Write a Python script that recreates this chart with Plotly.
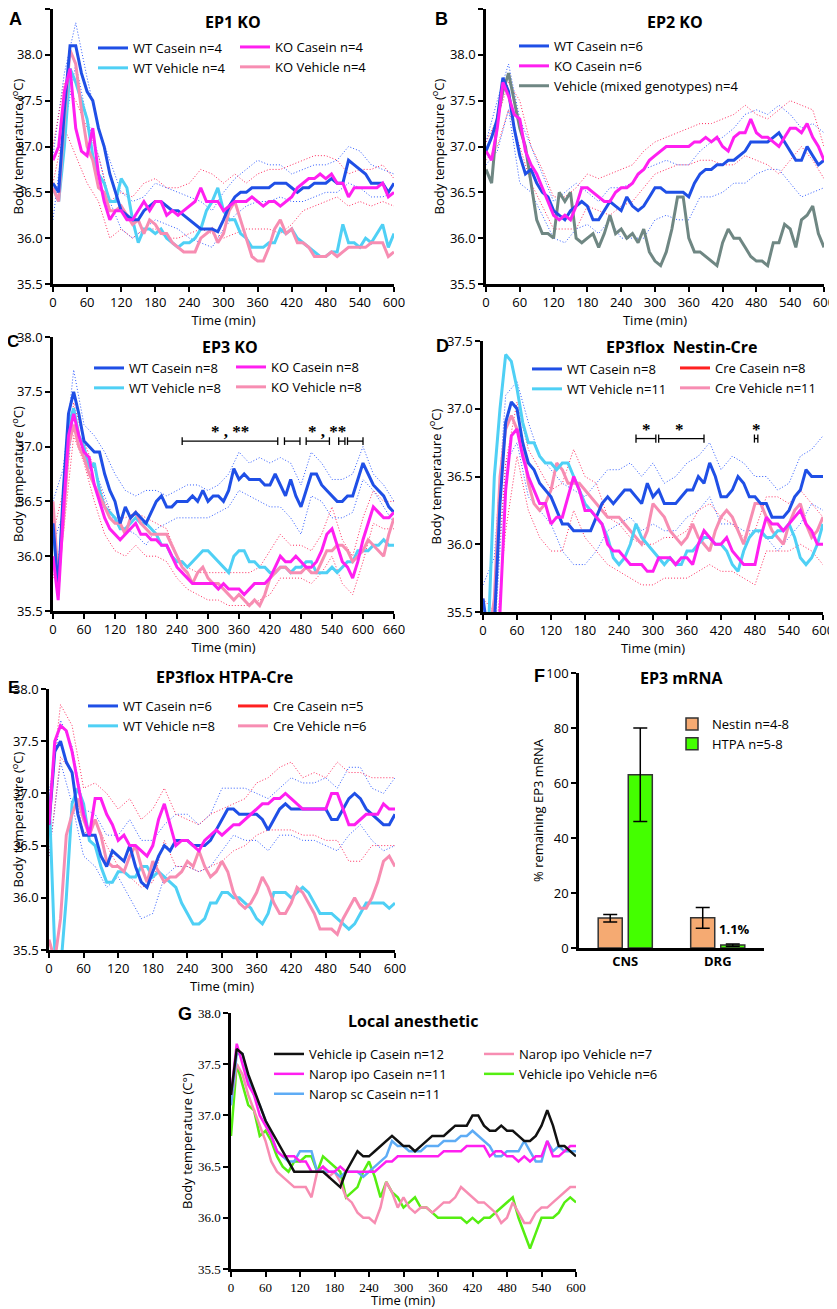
import plotly.graph_objects as go

SCREEN_W, SCREEN_H = 837, 1309
OFF = 8  # the page body margin shifts the figure by 8 px
W, H = SCREEN_W - OFF, SCREEN_H - OFF
FONT = "Open Sans"

# ---------------- DATA ----------------
T600 = [0,10,20,30,40,50,60,70,80,90,100,110,120,130,140,150,160,170,180,190,200,210,220,230,240,250,260,270,280,290,
        300,310,320,330,340,350,360,370,380,390,400,410,420,430,440,450,460,470,480,490,500,510,520,530,540,550,560,570,580,590,600]
T660 = T600 + [610,620,630,640,650,660]
S600 = [0,20,40,60,80,100,120,140,160,180,200,220,240,260,280,300,320,340,360,380,400,420,440,460,480,500,520,540,560,580,600]
S660 = S600 + [620,640,660]

# Panel A: EP1 KO
A_wt_cas = [36.6,36.5,37.4,38.1,38.1,37.8,37.6,37.5,37.2,37.0,
            36.7,36.5,36.3,36.25,36.2,36.2,36.3,36.35,36.4,36.4,
            36.35,36.3,36.3,36.25,36.2,36.15,36.1,36.1,36.1,36.07,
            36.2,36.35,36.45,36.5,36.5,36.55,36.55,36.55,36.55,36.6,
            36.6,36.6,36.55,36.5,36.55,36.55,36.6,36.6,36.6,36.65,
            36.6,36.6,36.85,36.8,36.75,36.7,36.6,36.6,36.6,36.5,
            36.6]
A_wt_veh = [36.55,36.4,37.0,37.85,37.7,37.5,37.3,36.9,36.7,36.6,
            36.4,36.4,36.65,36.55,36.2,35.95,36.1,36.1,36.05,36.1,
            36.0,35.95,35.9,35.95,35.95,36.0,36.1,36.3,36.4,36.55,
            36.3,36.2,36.2,36.05,36.0,35.9,35.9,35.9,35.95,35.95,
            36.1,36.05,36.1,36.0,35.95,35.9,35.85,35.8,35.8,35.85,
            35.85,36.15,35.95,35.95,35.9,36.0,35.95,36.05,36.15,35.9,
            36.05]
A_ko_cas = [36.85,37.0,37.6,37.85,37.2,36.95,36.9,37.2,36.7,36.4,
            36.2,36.3,36.3,36.2,36.2,36.3,36.4,36.3,36.4,36.4,
            36.25,36.3,36.25,36.3,36.35,36.4,36.55,36.4,36.4,36.4,
            36.3,36.35,36.4,36.4,36.4,36.45,36.4,36.35,36.4,36.4,
            36.35,36.4,36.45,36.55,36.6,36.65,36.65,36.7,36.65,36.7,
            36.6,36.6,36.45,36.55,36.55,36.55,36.55,36.55,36.6,36.45,
            36.5]
A_ko_veh = [36.55,36.4,37.3,38.05,37.9,37.4,37.0,36.85,36.55,36.5,
            36.3,36.3,36.35,36.25,36.15,36.2,36.05,36.2,36.15,36.05,
            36.05,35.95,35.9,35.85,35.85,35.85,36.0,36.05,36.1,35.95,
            36.05,36.3,36.4,36.2,36.0,35.8,35.75,35.75,35.9,36.1,
            36.2,36.05,36.1,35.95,35.95,35.9,35.8,35.8,35.8,35.85,
            35.8,35.85,35.9,35.9,35.9,35.9,35.95,35.95,35.95,35.8,
            35.85]
A_wt_hi = [36.9,37.8,38.35,37.75,37.2,36.85,36.5,36.4,36.45,36.6,36.55,36.5,36.45,36.4,36.3,36.5,36.65,36.75,36.85,36.8,
           36.8,36.7,36.75,36.8,36.8,36.85,37.0,36.95,36.8,36.75,36.7]
A_wt_lo = [36.2,37.2,37.9,37.3,36.9,36.4,36.1,36.0,36.1,36.2,36.15,36.1,36.0,35.95,35.9,36.1,36.25,36.35,36.4,36.4,
           36.45,36.4,36.4,36.45,36.5,36.5,36.6,36.55,36.45,36.45,36.5]
A_ko_hi = [37.0,37.7,37.5,37.2,36.9,36.4,36.5,36.45,36.6,36.65,36.55,36.55,36.6,36.75,36.7,36.6,36.7,36.6,36.7,36.75,
           36.75,36.8,36.85,36.9,36.9,36.85,36.7,36.75,36.75,36.8,36.65]
A_ko_lo = [36.6,37.2,36.9,36.6,36.4,36.0,36.1,36.0,36.1,36.1,36.0,36.0,36.05,36.1,36.05,36.0,36.05,36.1,36.1,36.1,
           36.05,36.15,36.3,36.35,36.4,36.45,36.35,36.4,36.35,36.4,36.35]

# Panel B: EP2 KO
B_wt_cas = [36.95,37.1,37.3,37.75,37.6,37.2,36.9,36.7,36.75,36.6,
            36.5,36.45,36.3,36.25,36.2,36.3,36.35,36.4,36.35,36.2,
            36.2,36.3,36.4,36.35,36.3,36.45,36.35,36.3,36.35,36.45,
            36.55,36.55,36.5,36.5,36.5,36.5,36.45,36.6,36.7,36.75,
            36.75,36.8,36.8,36.85,36.85,36.9,36.95,37.05,37.05,37.05,
            37.05,37.1,37.15,37.05,36.95,36.85,36.85,37.0,36.9,36.8,
            36.85]
B_ko_cas = [36.95,36.85,37.2,37.7,37.55,37.35,37.3,36.95,36.8,36.7,
            36.55,36.4,36.25,36.2,36.25,36.2,36.35,36.55,36.55,36.5,
            36.45,36.4,36.4,36.5,36.55,36.55,36.6,36.7,36.75,36.85,
            36.9,36.95,37.0,37.0,37.0,37.0,37.0,37.05,37.05,37.1,
            37.05,37.1,37.0,36.95,37.1,37.15,37.15,37.3,37.15,37.1,
            37.1,37.05,37.0,37.1,37.2,37.2,37.15,37.25,37.1,37.0,
            36.85]
B_veh = [36.75,36.6,37.3,37.6,37.8,37.5,37.2,37.0,36.6,36.2,
         36.05,36.05,36.0,36.5,36.4,36.5,36.0,35.95,36.0,36.05,
         35.9,36.05,36.25,36.05,36.1,36.0,36.05,35.95,36.1,35.85,
         35.75,35.7,35.85,36.1,36.45,36.45,36.0,35.85,35.85,35.8,
         35.75,35.7,35.95,36.1,36.0,36.0,35.9,35.8,35.75,35.75,
         35.7,35.95,35.95,36.15,36.1,35.9,36.2,36.25,36.35,36.05,
         35.9]
B_wt_hi = [37.05,37.5,37.9,37.3,37.0,36.7,36.4,36.5,36.6,36.5,36.4,36.55,36.55,36.6,36.75,36.8,36.85,36.8,36.8,36.95,
           37.05,37.1,37.2,37.35,37.4,37.35,37.45,37.35,37.2,37.25,37.15]
B_wt_lo = [36.8,36.95,37.4,36.6,36.5,36.25,36.0,35.95,36.1,36.15,36.05,36.2,36.0,36.0,36.0,36.2,36.25,36.2,36.2,36.45,
           36.45,36.5,36.6,36.6,36.7,36.75,36.75,36.6,36.45,36.5,36.55]
B_ko_hi = [37.05,37.3,37.7,37.5,37.0,36.75,36.45,36.45,36.55,36.7,36.65,36.7,36.75,36.8,36.95,37.05,37.1,37.15,37.2,37.25,
           37.25,37.3,37.35,37.45,37.35,37.3,37.4,37.5,37.45,37.4,37.0]
B_ko_lo = [36.85,37.0,37.4,37.0,36.6,36.35,36.1,36.1,36.1,36.35,36.3,36.25,36.35,36.4,36.55,36.7,36.75,36.8,36.8,36.85,
           36.85,36.8,36.8,36.9,36.85,36.8,36.7,36.85,37.0,36.85,36.65]

# Panel C: EP3 KO (0-660 min)
C_wt_cas = [36.3,35.7,36.6,37.3,37.5,37.3,37.05,37.0,36.95,36.95,
            36.75,36.6,36.5,36.3,36.45,36.35,36.4,36.35,36.3,36.4,
            36.5,36.55,36.45,36.45,36.5,36.5,36.5,36.55,36.5,36.6,
            36.5,36.55,36.55,36.5,36.6,36.8,36.7,36.75,36.7,36.7,
            36.7,36.65,36.65,36.75,36.65,36.55,36.7,36.55,36.45,36.6,
            36.75,36.75,36.65,36.6,36.55,36.5,36.5,36.55,36.55,36.7,
            36.85,36.75,36.65,36.6,36.55,36.45,36.4]
C_wt_veh = [36.3,35.7,36.5,37.2,37.35,37.1,37.0,36.8,36.85,36.6,
            36.45,36.4,36.35,36.25,36.25,36.3,36.35,36.3,36.3,36.25,
            36.2,36.1,36.1,36.0,35.95,35.95,35.9,35.95,36.0,36.05,
            36.05,36.0,35.95,35.9,35.85,36.0,36.05,36.05,35.95,35.95,
            35.9,35.9,35.85,35.85,35.9,35.9,35.85,35.9,35.9,35.95,
            35.95,35.85,35.85,35.85,35.9,35.85,35.9,35.95,35.95,36.05,
            36.05,36.05,36.1,36.1,36.15,36.1,36.1]
C_ko_cas = [36.0,35.6,36.4,37.1,37.3,37.1,36.95,36.9,36.65,36.5,
            36.35,36.25,36.2,36.15,36.2,36.25,36.3,36.2,36.2,36.15,
            36.15,36.1,36.1,36.0,35.9,35.85,35.8,35.75,35.75,35.75,
            35.75,35.75,35.7,35.75,35.7,35.7,35.7,35.65,35.7,35.75,
            35.75,35.75,35.8,35.9,36.0,35.95,35.95,36.0,35.95,35.9,
            35.9,35.95,36.05,36.2,36.25,36.1,35.95,35.9,35.8,35.95,
            36.15,36.3,36.45,36.4,36.35,36.35,36.4]
C_ko_veh = [36.5,35.8,36.3,37.0,37.2,37.0,36.9,36.75,36.65,36.55,
            36.45,36.35,36.3,36.3,36.2,36.35,36.4,36.3,36.25,36.2,
            36.2,36.2,36.2,36.1,36.0,35.9,35.85,35.75,35.85,35.9,
            35.8,35.75,35.75,35.7,35.65,35.6,35.65,35.6,35.55,35.6,
            35.55,35.65,35.8,35.85,35.9,35.9,35.85,35.85,35.85,35.9,
            35.85,35.85,35.95,36.05,36.05,36.1,36.1,36.05,35.95,36.0,
            36.05,36.15,36.1,36.05,36.0,36.2,36.35]
C_wt_hi = [36.5,36.8,37.7,37.2,37.1,36.95,36.75,36.6,36.55,36.6,36.6,36.55,36.6,36.65,36.65,36.6,36.65,36.75,36.95,36.85,
           36.9,36.85,36.9,36.85,36.65,36.95,36.85,36.7,36.7,36.75,37.0,36.75,36.65,36.5]
C_wt_lo = [36.1,36.4,37.3,36.9,36.8,36.55,36.3,36.25,36.2,36.1,36.25,36.3,36.35,36.35,36.35,36.35,36.4,36.45,36.6,36.55,
           36.5,36.45,36.45,36.35,36.2,36.55,36.5,36.35,36.35,36.4,36.7,36.6,36.45,36.3]
C_ko_hi = [36.2,36.6,37.4,37.05,36.8,36.5,36.35,36.35,36.4,36.35,36.3,36.25,36.0,35.9,35.85,35.85,35.85,35.85,35.85,35.85,
           35.9,36.05,36.2,36.1,36.1,36.05,36.2,36.45,36.15,36.0,36.35,36.6,36.5,36.5]
C_ko_lo = [35.8,36.2,37.1,36.85,36.5,36.2,36.05,36.0,36.1,36.0,36.0,35.95,35.8,35.7,35.65,35.6,35.6,35.55,35.55,35.55,
           35.6,35.65,35.8,35.8,35.8,35.75,35.85,36.0,35.75,35.65,35.95,36.3,36.25,36.25]
C_bracket_spans = [[250, 435], [448, 478], [490, 535], [553, 565], [570, 600]]
C_bracket_y = 37.05
C_star_x = [342, 530]
C_star_text = ["* , **", "* , **"]

# Panel D: EP3flox Nestin-Cre
D_wt_cas = [35.6,35.3,35.4,36.3,36.9,37.05,37.0,36.75,36.6,36.55,
            36.45,36.4,36.35,36.25,36.15,36.15,36.1,36.1,36.1,36.1,
            36.2,36.3,36.35,36.3,36.35,36.4,36.4,36.35,36.3,36.45,
            36.35,36.4,36.3,36.3,36.3,36.35,36.4,36.4,36.5,36.45,
            36.6,36.5,36.35,36.35,36.4,36.5,36.45,36.35,36.35,36.3,
            36.3,36.2,36.2,36.2,36.25,36.35,36.4,36.55,36.5,36.5,
            36.5]
D_wt_veh = [35.5,35.4,36.5,37.0,37.4,37.35,37.15,36.9,36.75,36.75,
            36.65,36.6,36.6,36.55,36.6,36.6,36.5,36.4,36.3,36.25,
            36.2,36.15,36.05,35.9,35.85,35.9,36.0,36.15,36.05,36.0,
            35.95,35.9,35.85,35.9,35.85,35.85,35.95,35.95,36.0,36.05,
            36.05,36.0,36.0,35.95,35.85,35.8,35.95,36.05,36.1,36.1,
            36.05,36.05,36.1,36.1,36.15,36.05,35.9,35.85,35.9,36.0,
            36.15]
D_cre_cas = [35.4,35.2,35.3,35.5,36.4,36.8,36.85,36.65,36.5,36.4,
             36.3,36.3,36.15,36.2,36.2,36.35,36.5,36.4,36.25,36.25,
             36.2,36.15,36.0,35.95,35.95,35.9,35.85,35.85,35.85,35.8,
             35.8,35.9,35.9,35.9,35.85,35.9,35.9,35.85,36.0,36.1,
             36.05,36.0,36.0,36.05,35.95,35.9,35.85,35.85,35.85,36.05,
             36.2,36.15,36.15,36.1,36.15,36.2,36.25,36.15,36.1,36.0,
             36.0]
D_cre_veh = [35.4,35.3,35.6,36.5,36.85,36.95,36.85,36.75,36.45,36.3,
             36.25,36.3,36.4,36.6,36.55,36.45,36.45,36.45,36.4,36.35,
             36.3,36.25,36.2,36.2,36.2,36.15,36.1,36.05,36.0,36.1,
             36.3,36.25,36.2,36.1,36.05,36.0,36.05,36.15,36.05,36.0,
             35.95,36.1,36.2,36.25,36.2,36.1,36.0,36.15,36.3,36.3,
             36.2,36.1,36.05,36.0,36.15,36.25,36.3,36.15,36.05,36.1,
             36.2]
D_wt_hi = [35.7,35.9,37.1,37.2,36.9,36.65,36.55,36.45,36.4,36.35,36.45,36.55,36.55,36.6,36.5,36.6,36.45,36.5,36.6,36.65,
           36.75,36.55,36.65,36.6,36.5,36.5,36.4,36.45,36.65,36.7,36.8]
D_wt_lo = [35.5,35.3,36.6,36.75,36.35,36.25,36.15,35.95,35.85,35.85,35.95,36.1,36.15,36.2,36.1,36.15,36.1,36.1,36.2,36.25,
           36.35,36.15,36.15,36.1,36.1,36.05,35.95,36.05,36.15,36.3,36.25]
D_cre_hi = [35.6,35.5,36.6,37.05,36.7,36.55,36.4,36.45,36.7,36.5,36.45,36.2,36.15,36.05,36.0,36.0,36.05,36.05,36.1,36.25,
            36.3,36.2,36.15,36.05,36.1,36.35,36.35,36.3,36.4,36.3,36.2]
D_cre_lo = [35.3,35.2,36.1,36.65,36.25,36.05,35.95,35.95,36.25,36.05,35.95,35.85,35.8,35.75,35.7,35.7,35.75,35.75,35.75,35.8,
            35.85,35.8,35.8,35.75,35.7,35.95,35.95,35.95,36.0,35.95,35.85]
D_bracket_spans = [[270, 305], [310, 390], [479, 485]]
D_bracket_y = 36.78
D_star_x = [289, 347, 482]
D_star_text = ["*", "*", "*"]

# Panel E: EP3flox HTPA-Cre
E_wt_cas = [36.7,37.4,37.5,37.3,37.2,36.8,36.6,36.6,36.6,36.4,
            36.3,36.45,36.4,36.35,36.5,36.3,36.15,36.1,36.25,36.4,
            36.5,36.45,36.55,36.55,36.55,36.5,36.5,36.5,36.55,36.65,
            36.75,36.85,36.85,36.8,36.8,36.8,36.8,36.75,36.65,36.75,
            36.85,36.9,36.85,36.85,36.85,36.85,36.85,36.85,36.85,36.75,
            36.75,36.85,36.95,37.0,36.95,36.85,36.8,36.75,36.7,36.7,
            36.8]
E_wt_veh = [37.0,35.5,35.3,36.0,36.9,37.05,36.9,36.55,36.5,36.3,
            36.15,36.15,36.25,36.25,36.2,36.2,36.3,36.3,36.2,36.25,
            36.2,36.15,36.1,35.95,35.85,35.75,35.75,35.8,35.95,35.95,
            36.05,36.05,36.0,36.0,35.95,35.9,35.8,35.75,35.85,36.05,
            36.05,36.05,36.0,36.05,36.1,36.05,35.95,35.85,35.85,35.85,
            35.8,35.75,35.7,35.75,35.85,35.95,35.95,35.95,35.95,35.9,
            35.95]
E_cre_cas = [36.7,37.5,37.65,37.6,37.4,37.1,36.8,36.6,36.95,36.95,
             36.8,36.7,36.55,36.6,36.5,36.5,36.45,36.4,36.5,36.75,
             36.9,36.7,36.5,36.55,36.55,36.5,36.45,36.55,36.6,36.65,
             36.6,36.65,36.7,36.7,36.75,36.8,36.85,36.9,36.9,36.95,
             36.95,37.0,36.95,36.9,36.85,36.85,36.85,36.85,36.85,37.0,
             37.0,36.85,36.7,36.7,36.75,36.8,36.8,36.8,36.9,36.85,
             36.85]
E_cre_veh = [35.6,35.4,35.8,36.6,36.8,36.95,36.75,36.6,36.75,36.6,
             36.35,36.3,36.3,36.25,36.4,36.5,36.3,36.15,36.35,36.25,
             36.15,36.2,36.2,36.25,36.35,36.3,36.45,36.3,36.2,36.25,
             36.35,36.25,36.05,35.95,35.9,35.95,36.05,36.2,36.1,35.95,
             35.85,35.85,35.95,36.1,36.05,35.95,35.85,35.7,35.7,35.7,
             35.65,35.8,35.9,36.0,35.9,35.9,36.0,36.15,36.35,36.4,
             36.3]
E_wt_hi = [37.0,37.7,37.45,36.85,36.8,36.6,36.6,36.75,36.55,36.55,36.7,36.8,36.8,36.7,36.8,37.05,37.05,37.05,37.0,36.95,
           37.05,37.15,37.1,37.1,37.15,37.05,37.25,37.25,37.05,37.0,37.15]
E_wt_lo = [36.4,37.3,36.9,36.4,36.3,36.1,36.2,36.0,35.8,35.85,36.2,36.3,36.3,36.25,36.3,36.45,36.6,36.55,36.55,36.45,
           36.6,36.6,36.55,36.55,36.5,36.45,36.6,36.7,36.55,36.45,36.5]
E_cre_hi = [36.9,37.85,37.65,37.05,37.1,37.0,36.85,36.95,36.75,36.85,37.05,36.8,36.75,36.7,36.8,36.85,36.9,36.95,37.1,37.15,
            37.25,37.3,37.15,37.2,37.15,37.3,37.2,37.2,37.15,37.15,37.15]
E_cre_lo = [36.4,37.35,37.2,36.6,36.75,36.5,36.3,36.2,36.1,36.15,36.55,36.3,36.3,36.25,36.3,36.35,36.45,36.5,36.6,36.65,
            36.65,36.65,36.6,36.6,36.55,36.55,36.35,36.35,36.5,36.5,36.5]

# Panel F: EP3 mRNA
F_tissues = ["CNS", "DRG"]
F_nestin = [10.9, 11.0]
F_nestin_err_up = [1.3, 3.7]
F_nestin_err_dn = [1.4, 3.8]
F_htpa = [63.0, 1.1]
F_htpa_err_up = [17.0, 0.4]
F_htpa_err_dn = [17.0, 0.5]

# Panel G: Local anesthetic
G_veh_ip_cas = [37.2,37.65,37.6,37.4,37.25,37.1,36.95,36.85,36.75,36.65,
                36.55,36.45,36.45,36.45,36.45,36.45,36.45,36.4,36.35,36.3,
                36.45,36.55,36.65,36.6,36.6,36.65,36.7,36.75,36.8,36.75,
                36.7,36.7,36.65,36.7,36.75,36.8,36.8,36.8,36.85,36.9,
                36.9,36.9,37.0,37.0,36.9,36.85,36.85,36.9,36.85,36.85,
                36.8,36.75,36.75,36.8,36.9,37.05,36.9,36.7,36.7,36.65,
                36.6]
G_narop_ipo_cas = [37.2,37.7,37.5,37.3,37.2,37.0,36.9,36.8,36.65,36.6,
                   36.6,36.6,36.55,36.55,36.45,36.45,36.5,36.45,36.45,36.5,
                   36.45,36.45,36.45,36.45,36.45,36.45,36.5,36.55,36.55,36.6,
                   36.6,36.6,36.6,36.6,36.6,36.6,36.6,36.65,36.65,36.65,
                   36.65,36.7,36.7,36.7,36.7,36.6,36.65,36.65,36.6,36.6,
                   36.55,36.6,36.55,36.6,36.6,36.75,36.6,36.6,36.65,36.7,
                   36.7]
G_narop_sc_cas = [37.1,37.6,37.6,37.35,37.2,37.1,36.95,36.8,36.65,36.6,
                  36.55,36.55,36.65,36.65,36.65,36.45,36.45,36.45,36.45,36.4,
                  36.45,36.45,36.45,36.4,36.45,36.5,36.55,36.6,36.75,36.7,
                  36.7,36.65,36.65,36.65,36.7,36.7,36.7,36.75,36.75,36.75,
                  36.8,36.8,36.85,36.8,36.75,36.7,36.6,36.6,36.65,36.65,
                  36.65,36.75,36.65,36.55,36.55,36.75,36.65,36.7,36.65,36.65,
                  36.65]
G_narop_ipo_veh = [37.1,37.5,37.4,37.2,37.05,36.9,36.75,36.55,36.45,36.4,
                   36.35,36.3,36.3,36.3,36.2,36.45,36.5,36.4,36.45,36.35,
                   36.2,36.15,36.05,36.0,36.0,35.95,36.1,36.35,36.25,36.1,
                   36.2,36.1,36.05,36.1,36.1,36.05,36.1,36.15,36.15,36.2,
                   36.3,36.25,36.2,36.15,36.15,36.1,36.05,35.95,36.0,36.15,
                   36.05,35.95,35.95,36.05,36.1,36.1,36.15,36.2,36.25,36.3,
                   36.3]
G_veh_ipo_veh = [36.8,37.5,37.3,37.1,37.05,36.8,36.85,36.75,36.6,36.5,
                 36.45,36.55,36.55,36.6,36.6,36.45,36.6,36.55,36.5,36.45,
                 36.2,36.25,36.3,36.45,36.55,36.4,36.2,36.35,36.25,36.2,
                 36.1,36.15,36.2,36.1,36.1,36.05,36.0,36.0,36.0,36.0,
                 36.0,35.95,36.0,35.95,36.0,36.0,36.05,36.1,36.15,36.2,
                 36.0,35.85,35.7,35.85,36.0,36.0,36.0,36.05,36.15,36.2,
                 36.15]

TEMP_TICKS_A = [35.5, 36.0, 36.5, 37.0, 37.5, 38.0, 38.5]
TEMP_TICKS_C = [35.5, 36.0, 36.5, 37.0, 37.5, 38.0]
TEMP_TICKS_D = [35.5, 36.0, 36.5, 37.0, 37.5]
TIME_TICKS_600 = [0, 60, 120, 180, 240, 300, 360, 420, 480, 540, 600]
TIME_TICKS_660 = TIME_TICKS_600 + [660]
F_TICKS = [0, 20, 40, 60, 80, 100]

# sanity check
for nm, arr, ref in [("A_wt_cas", A_wt_cas, T600), ("A_wt_veh", A_wt_veh, T600), ("A_ko_cas", A_ko_cas, T600), ("A_ko_veh", A_ko_veh, T600),
                     ("B_wt_cas", B_wt_cas, T600), ("B_ko_cas", B_ko_cas, T600), ("B_veh", B_veh, T600),
                     ("C_wt_cas", C_wt_cas, T660), ("C_wt_veh", C_wt_veh, T660), ("C_ko_cas", C_ko_cas, T660), ("C_ko_veh", C_ko_veh, T660),
                     ("D_wt_cas", D_wt_cas, T600), ("D_wt_veh", D_wt_veh, T600), ("D_cre_cas", D_cre_cas, T600), ("D_cre_veh", D_cre_veh, T600),
                     ("E_wt_cas", E_wt_cas, T600), ("E_wt_veh", E_wt_veh, T600), ("E_cre_cas", E_cre_cas, T600), ("E_cre_veh", E_cre_veh, T600),
                     ("G1", G_veh_ip_cas, T600), ("G2", G_narop_ipo_cas, T600), ("G3", G_narop_sc_cas, T600), ("G4", G_narop_ipo_veh, T600), ("G5", G_veh_ipo_veh, T600),
                     ("A_wt_hi", A_wt_hi, S600), ("A_wt_lo", A_wt_lo, S600), ("A_ko_hi", A_ko_hi, S600), ("A_ko_lo", A_ko_lo, S600),
                     ("B_wt_hi", B_wt_hi, S600), ("B_wt_lo", B_wt_lo, S600), ("B_ko_hi", B_ko_hi, S600), ("B_ko_lo", B_ko_lo, S600),
                     ("C_wt_hi", C_wt_hi, S660), ("C_wt_lo", C_wt_lo, S660), ("C_ko_hi", C_ko_hi, S660), ("C_ko_lo", C_ko_lo, S660),
                     ("D_wt_hi", D_wt_hi, S600), ("D_wt_lo", D_wt_lo, S600), ("D_cre_hi", D_cre_hi, S600), ("D_cre_lo", D_cre_lo, S600),
                     ("E_wt_hi", E_wt_hi, S600), ("E_wt_lo", E_wt_lo, S600), ("E_cre_hi", E_cre_hi, S600), ("E_cre_lo", E_cre_lo, S600)]:
    if len(arr) != len(ref):
        raise ValueError(f"{nm}: {len(arr)} vs {len(ref)}")

# ---------------- STYLE ----------------
BLUE = "#1f4fe6"
CYAN = "#4fd0f5"
MAGENTA = "#ff1ff0"
PINK = "#f78db2"
GRAY = "#6f8783"
RED = "#ff2020"
DOT_BLUE = "#2f5bff"
DOT_RED = "#ff2b5e"
G_BLACK = "#111111"
G_LBLUE = "#5eacf5"
G_GREEN = "#55ee11"
F_ORANGE = "#f5aa72"
F_GREEN = "#44ff00"

fig = go.Figure()


# screen pixel -> paper fraction of the figure (which starts OFF px into the page)
def px(x):
    return (x - OFF) / W


def py(y):
    return 1 - (y - OFF) / H


def xd(a, b):
    return [px(a), px(b)]


def yd(top, bot):
    return [py(bot), py(top)]


def line(x, y, color, name, ax, legend, width=3, show=True, rank=None):
    fig.add_trace(go.Scatter(x=x, y=y, mode="lines", name=name, line=dict(color=color, width=width),
                             xaxis="x" + ax, yaxis="y" + ax, legend=legend, showlegend=show,
                             legendrank=rank if rank is not None else 1000, hoverinfo="skip"))


def sem(x, y, color, ax):
    fig.add_trace(go.Scatter(x=x, y=y, mode="lines", line=dict(color=color, width=1, dash="1px,2px"),
                             xaxis="x" + ax, yaxis="y" + ax, showlegend=False, hoverinfo="skip"))


def legend_only(color, name, ax, legend, rank):
    fig.add_trace(go.Scatter(x=[None], y=[None], mode="lines", name=name, line=dict(color=color, width=3),
                             xaxis="x" + ax, yaxis="y" + ax, legend=legend, legendrank=rank))


# Panel A (axis "")
for arr in (A_wt_hi, A_wt_lo):
    sem(S600, arr, DOT_BLUE, "")
for arr in (A_ko_hi, A_ko_lo):
    sem(S600, arr, DOT_RED, "")
line(T600, A_wt_veh, CYAN, "WT Vehicle n=4", "", "legend", rank=2)
line(T600, A_ko_veh, PINK, "KO Vehicle n=4", "", "legend2", rank=2)
line(T600, A_wt_cas, BLUE, "WT Casein n=4", "", "legend", rank=1)
line(T600, A_ko_cas, MAGENTA, "KO Casein n=4", "", "legend2", rank=1)

# Panel B
for arr in (B_wt_hi, B_wt_lo):
    sem(S600, arr, DOT_BLUE, "2")
for arr in (B_ko_hi, B_ko_lo):
    sem(S600, arr, DOT_RED, "2")
line(T600, B_veh, GRAY, "Vehicle (mixed genotypes) n=4", "2", "legend3", rank=3)
line(T600, B_wt_cas, BLUE, "WT Casein n=6", "2", "legend3", rank=1)
line(T600, B_ko_cas, MAGENTA, "KO Casein n=6", "2", "legend3", rank=2)

# Panel C
for arr in (C_wt_hi, C_wt_lo):
    sem(S660, arr, DOT_BLUE, "3")
for arr in (C_ko_hi, C_ko_lo):
    sem(S660, arr, DOT_RED, "3")
line(T660, C_wt_veh, CYAN, "WT Vehicle n=8", "3", "legend4", rank=2)
line(T660, C_ko_veh, PINK, "KO Vehicle n=8", "3", "legend5", rank=2)
line(T660, C_wt_cas, BLUE, "WT Casein n=8", "3", "legend4", rank=1)
line(T660, C_ko_cas, MAGENTA, "KO Casein n=8", "3", "legend5", rank=1)

# Panel D
for arr in (D_wt_hi, D_wt_lo):
    sem(S600, arr, DOT_BLUE, "4")
for arr in (D_cre_hi, D_cre_lo):
    sem(S600, arr, DOT_RED, "4")
line(T600, D_cre_veh, PINK, "Cre Vehicle n=11", "4", "legend7", rank=2)
line(T600, D_wt_veh, CYAN, "WT Vehicle n=11", "4", "legend6", rank=2)
line(T600, D_wt_cas, BLUE, "WT Casein n=8", "4", "legend6", rank=1)
line(T600, D_cre_cas, MAGENTA, "Cre Casein n=8", "4", "legend7", show=False)
legend_only(RED, "Cre Casein n=8", "4", "legend7", 1)

# Panel E
for arr in (E_wt_hi, E_wt_lo):
    sem(S600, arr, DOT_BLUE, "5")
for arr in (E_cre_hi, E_cre_lo):
    sem(S600, arr, DOT_RED, "5")
line(T600, E_wt_veh, CYAN, "WT Vehicle n=8", "5", "legend8", rank=2)
line(T600, E_cre_veh, PINK, "Cre Vehicle n=6", "5", "legend9", rank=2)
line(T600, E_wt_cas, BLUE, "WT Casein n=6", "5", "legend8", rank=1)
line(T600, E_cre_cas, MAGENTA, "Cre Casein n=5", "5", "legend9", show=False)
legend_only(RED, "Cre Casein n=5", "5", "legend9", 1)

# Panel F
fig.add_trace(go.Bar(x=F_tissues, y=F_nestin, name="Nestin n=4-8", marker=dict(color=F_ORANGE, line=dict(color="#333333", width=1.5)),
                     error_y=dict(type="data", array=F_nestin_err_up, arrayminus=F_nestin_err_dn, color="black", thickness=1.5, width=7),
                     xaxis="x6", yaxis="y6", legend="legend10", hoverinfo="skip"))
fig.add_trace(go.Bar(x=F_tissues, y=F_htpa, name="HTPA n=5-8", marker=dict(color=F_GREEN, line=dict(color="#333333", width=1.5)),
                     error_y=dict(type="data", array=F_htpa_err_up, arrayminus=F_htpa_err_dn, color="black", thickness=1.5, width=7),
                     xaxis="x6", yaxis="y6", legend="legend10", hoverinfo="skip"))

# Panel G
line(T600, G_veh_ipo_veh, G_GREEN, "Vehicle ipo Vehicle n=6", "7", "legend12", width=2.5, rank=2)
line(T600, G_narop_ipo_veh, PINK, "Narop ipo Vehicle n=7", "7", "legend12", width=2.5, rank=1)
line(T600, G_narop_sc_cas, G_LBLUE, "Narop sc Casein n=11", "7", "legend11", width=2.5, rank=3)
line(T600, G_narop_ipo_cas, MAGENTA, "Narop ipo Casein n=11", "7", "legend11", width=2.5, rank=2)
line(T600, G_veh_ip_cas, G_BLACK, "Vehicle ip Casein n=12", "7", "legend11", width=2.5, rank=1)

# ---------------- LAYOUT ----------------
tickfont = dict(family=FONT, size=13, color="black")
titlefont = dict(family=FONT, size=13, color="black")


def axis(dom, rng, ticks, title, fmt=None, standoff=3, tf=None):
    d = dict(domain=dom, range=rng, tickmode="array", tickvals=ticks, showline=True, linecolor="black", linewidth=2.5,
             ticks="outside", ticklen=5, tickwidth=2, tickcolor="black", showgrid=False, zeroline=False, automargin=False,
             tickfont=tf or tickfont, title=dict(text=title, font=titlefont, standoff=standoff), fixedrange=True)
    if fmt:
        d["tickformat"] = fmt
    return d


BT = "Body temperature (<sup>o</sup>C)"
lay = dict(width=W, height=H, margin=dict(l=0, r=0, t=0, b=0, autoexpand=False), paper_bgcolor="white", plot_bgcolor="white",
           font=dict(family=FONT, color="black"), bargap=0.35, bargroupgap=0.2, barmode="group")

panels = [
    ("", xd(53, 394), yd(9, 284), [0, 600], TIME_TICKS_600, [35.5, 38.5], TEMP_TICKS_A, BT),
    ("2", xd(486, 824), yd(9, 284), [0, 600], TIME_TICKS_600, [35.5, 38.5], TEMP_TICKS_A, BT),
    ("3", xd(53, 394), yd(337, 611), [0, 660], TIME_TICKS_660, [35.5, 38.0], TEMP_TICKS_C, BT),
    ("4", xd(483, 823), yd(341, 612), [0, 600], TIME_TICKS_600, [35.5, 37.5], TEMP_TICKS_D, BT),
    ("5", xd(49, 395), yd(689, 950), [0, 600], TIME_TICKS_600, [35.5, 38.0], TEMP_TICKS_C, BT),
    ("7", xd(231, 576), yd(1013, 1269), [0, 600], TIME_TICKS_600, [35.5, 38.0], TEMP_TICKS_C, "Body temperature (C°)"),
]
serif = dict(family="Liberation Serif", size=13, color="black")
for ax, xdom, ydom, xr, xt, yr, yt, ytitle in panels:
    tf = serif if ax == "7" else None
    # panel G's x title is placed as an annotation below (the figure bottom would squeeze it)
    lay["xaxis" + ax] = axis(xdom, xr, xt, "" if ax == "7" else "Time (min)", standoff=2, tf=tf)
    lay["xaxis" + ax]["anchor"] = "y" + ax
    lay["yaxis" + ax] = axis(ydom, yr, yt, ytitle, fmt=".1f", standoff=3, tf=tf)
    lay["yaxis" + ax]["anchor"] = "x" + ax

lay["xaxis6"] = dict(domain=xd(579, 764), anchor="y6", showline=True, linecolor="black", linewidth=2.5, ticks="", automargin=False,
                     tickfont=dict(family=FONT, size=13, color="black", weight="bold"), showgrid=False, zeroline=False, fixedrange=True)
lay["yaxis6"] = axis(yd(673, 948), [0, 100], F_TICKS, "% remaining EP3 mRNA", standoff=0)
lay["yaxis6"]["anchor"] = "x6"
lay["yaxis6"]["title"]["font"] = dict(family=FONT, size=13, color="black")


def leg(xtext, ycenter):
    return dict(x=px(xtext - 40), y=py(ycenter - 15), xanchor="left", yanchor="top",
                bgcolor="rgba(0,0,0,0)", borderwidth=0, font=dict(family=FONT, size=13, color="black"),
                itemwidth=30, tracegroupgap=0, traceorder="normal")


lay["legend"] = leg(133, 48)
lay["legend2"] = leg(275, 47)
lay["legend3"] = leg(554, 46)
lay["legend4"] = leg(129, 368)
lay["legend5"] = leg(271, 367)
lay["legend6"] = leg(567, 369)
lay["legend7"] = leg(715, 368)
lay["legend8"] = leg(123, 706)
lay["legend9"] = leg(273, 706)
lay["legend10"] = leg(712, 724)
lay["legend11"] = leg(309, 1054)
lay["legend12"] = leg(519, 1054)

ann = []


def paper_text(text, x, y, size, bold=True, family=FONT, xanchor="center"):
    ann.append(dict(text=f"<b>{text}</b>" if bold else text, x=px(x), y=py(y), xref="paper", yref="paper",
                    xanchor=xanchor, yanchor="middle", showarrow=False, font=dict(family=family, size=size, color="black")))


for t, x, y in [("EP1 KO", 233, 22), ("EP2 KO", 675, 22), ("EP3 KO", 230, 347), ("EP3flox  Nestin-Cre", 682, 347),
                ("EP3flox HTPA-Cre", 224, 677), ("EP3 mRNA", 682, 678), ("Local anesthetic", 413, 1021)]:
    paper_text(t, x, y, 16)
for t, x, y in [("A", 16, 19), ("B", 441, 19), ("C", 13, 341), ("D", 442, 346), ("E", 13, 687), ("F", 539, 676), ("G", 185, 1014)]:
    paper_text(t, x, y, 17 if t in ("C", "E") else 18, family="Liberation Sans")

# panel G x-axis title
paper_text("Time (min)", 403, 1300, 13, bold=False)

shapes = []


def brackets(spans, yv, cap, ax):
    for a, b in spans:
        kw = dict(type="line", xref="x" + ax, yref="y" + ax, line=dict(color="black", width=1.3))
        shapes.append(dict(x0=a, x1=b, y0=yv, y1=yv, **kw))
        shapes.append(dict(x0=a, x1=a, y0=yv - cap, y1=yv + cap, **kw))
        shapes.append(dict(x0=b, x1=b, y0=yv - cap, y1=yv + cap, **kw))


brackets(C_bracket_spans, C_bracket_y, 0.035, "3")
brackets(D_bracket_spans, D_bracket_y, 0.03, "4")
for x, t in zip(C_star_x, C_star_text):
    ann.append(dict(text=f"<b>{t}</b>", x=x, y=C_bracket_y, xref="x3", yref="y3", yanchor="bottom", yshift=-2,
                    showarrow=False, font=dict(family="Liberation Serif", size=17, color="black")))
for x, t in zip(D_star_x, D_star_text):
    ann.append(dict(text=f"<b>{t}</b>", x=x, y=D_bracket_y, xref="x4", yref="y4", yanchor="bottom", yshift=-2,
                    showarrow=False, font=dict(family="Liberation Serif", size=17, color="black")))

ann.append(dict(text="<b>1.1%</b>", x="DRG", y=F_htpa[1] + F_htpa_err_up[1] + 1.5, xref="x6", yref="y6", xshift=17,
                yanchor="bottom", showarrow=False, font=dict(family=FONT, size=13, color="black")))

lay["annotations"] = ann
lay["shapes"] = shapes
fig.update_layout(**lay)
fig.write_html("out.html")
